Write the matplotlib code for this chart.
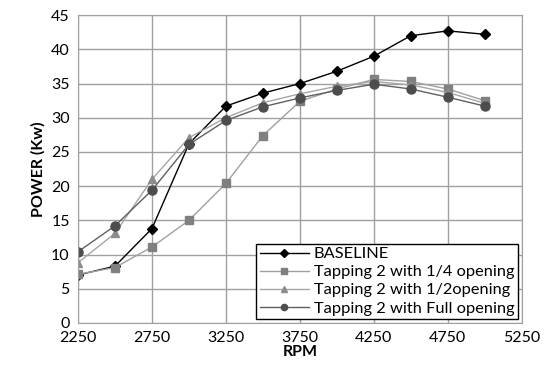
import numpy as np
import matplotlib
matplotlib.use("Agg")
import matplotlib.pyplot as plt

plt.rcParams['font.family'] = ['Lato', 'DejaVu Sans']

rpm = [2250, 2500, 2750, 3000, 3250, 3500, 3750, 4000, 4250, 4500, 4750, 5000]
baseline = [7.0, 8.3, 13.8, 26.2, 31.7, 33.6, 35.0, 36.8, 39.0, 42.0, 42.7, 42.2]
quarter = [7.1, 8.1, 11.1, 15.0, 20.4, 27.4, 32.4, 34.2, 35.6, 35.3, 34.2, 32.5]
half = [8.8, 13.1, 21.0, 27.1, 30.0, 32.2, 33.5, 34.6, 35.3, 34.8, 33.7, 32.1]
full = [10.4, 14.2, 19.4, 26.1, 29.6, 31.6, 32.9, 34.0, 34.9, 34.2, 33.0, 31.7]

fig = plt.figure(figsize=(5.51, 3.79), dpi=100)
ax = fig.add_axes([0.1416, 0.148, 0.8054, 0.812])

ax.plot(rpm, baseline, color='black', lw=1.0, marker='D', ms=5, label='BASELINE')
ax.plot(rpm, quarter, color='#a0a0a0', lw=1.0, marker='s', ms=6,
        mfc='#808080', mec='#808080', label='Tapping 2 with 1/4 opening')
ax.plot(rpm, half, color='#a6a6a6', lw=1.0, marker='^', ms=6,
        mfc='#8c8c8c', mec='#8c8c8c', label='Tapping 2 with 1/2opening')
ax.plot(rpm, full, color='#606060', lw=1.0, marker='o', ms=6.5,
        mfc='#4d4d4d', mec='#4d4d4d', label='Tapping 2 with Full opening')

ax.set_xlim(2250, 5250)
ax.set_ylim(0, 45)
ax.set_xticks(np.arange(2250, 5251, 500))
ax.set_yticks(np.arange(0, 46, 5))
ax.grid(True, color='#a0a0a0', lw=1.0)
ax.set_axisbelow(True)
for s in ax.spines.values():
    s.set_color('#a0a0a0')
ax.tick_params(length=0, labelsize=11.5, pad=6)

ax.set_xlabel('RPM', fontsize=11.5, fontweight='bold', labelpad=0)
ax.set_ylabel('POWER (Kw)', fontsize=11.5, fontweight='bold', labelpad=4)

leg = ax.legend(loc='lower right', fontsize=11.8, fancybox=False, framealpha=1,
                edgecolor='black', borderpad=0.2, labelspacing=0.22,
                handlelength=3.0, handletextpad=0.3, borderaxespad=0.25)
leg.get_frame().set_linewidth(1.0)
for h in leg.legend_handles:
    h.set_markersize(4.5)

fig.savefig('out.png', dpi=100)
